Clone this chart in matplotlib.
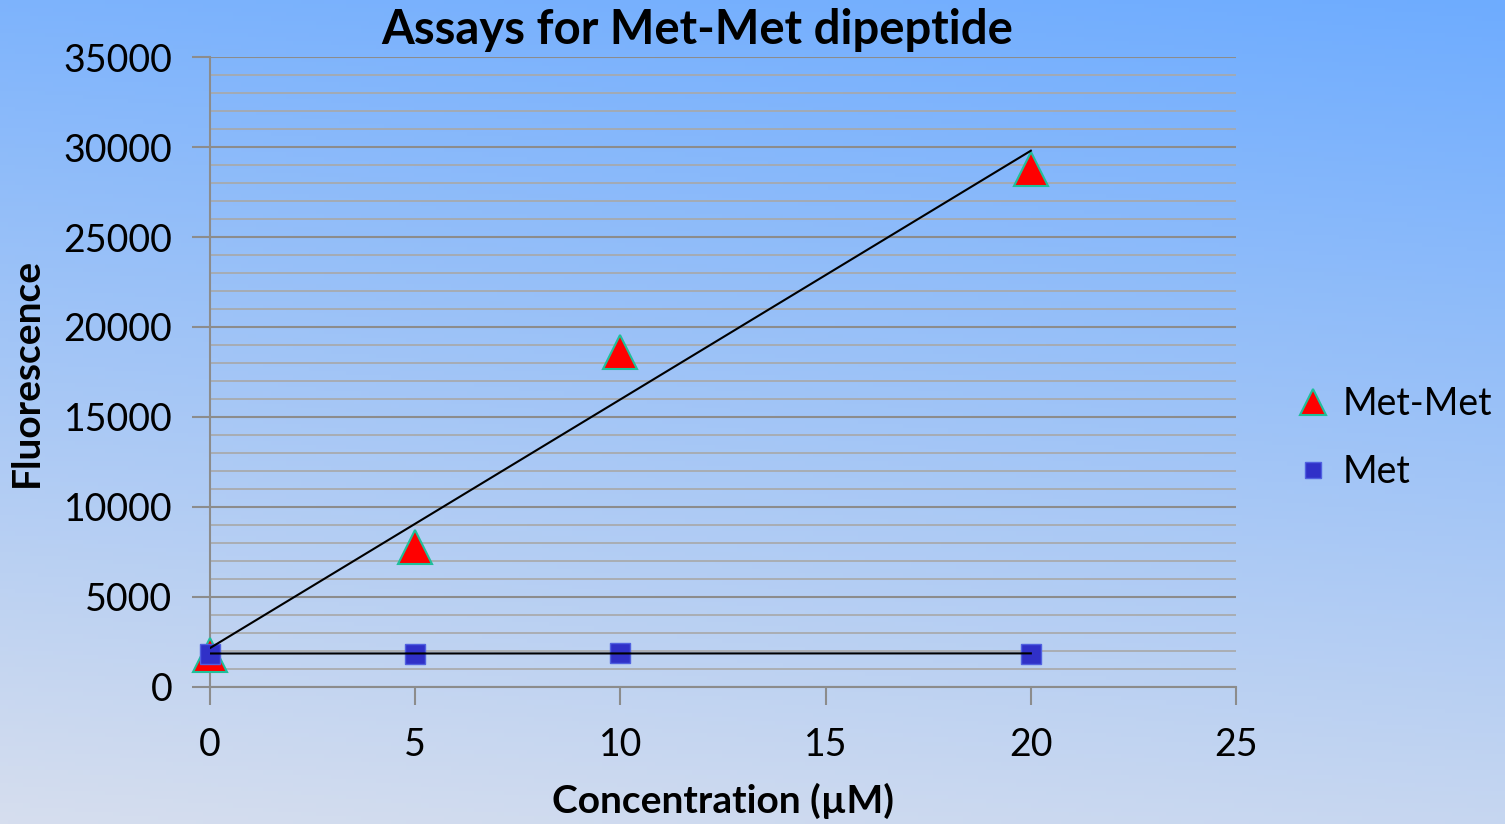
import numpy as np
import matplotlib.pyplot as plt
from matplotlib.ticker import MultipleLocator

conc = [0, 5, 10, 20]
met_met = [1800, 7800, 18600, 28800]
met = [1850, 1850, 1900, 1850]

plt.rcParams['font.family'] = ['Lato', 'DejaVu Sans']

fig = plt.figure(figsize=(15.05, 8.24), dpi=100)

# background gradient (bluer at top right, pale at bottom left)
bg = fig.add_axes([0, 0, 1, 1], zorder=-10)
yy, xx = np.mgrid[0:1:200j, 0:1:200j]
t = np.clip(0.85 * yy + 0.15 * xx, 0, 1)
top = np.array([110, 172, 255]) / 255
bot = np.array([214, 222, 238]) / 255
img = bot[None, None, :] * (1 - t[..., None]) + top[None, None, :] * t[..., None]
bg.imshow(img, origin='lower', aspect='auto', extent=[0, 1, 0, 1])
bg.axis('off')

ax = fig.add_axes([0.1395, 0.1663, 0.6818, 0.7645])
ax.patch.set_alpha(0)

ax.plot(conc, met_met, linestyle='none', marker='^', markersize=24,
        markerfacecolor='#ff0000', markeredgecolor='#1fbf9a', markeredgewidth=1.5,
        label='Met-Met', zorder=3, clip_on=False)
ax.plot(conc, met, linestyle='none', marker='s', markersize=15,
        markerfacecolor='#3030c8', markeredgecolor='#5060e0', markeredgewidth=1,
        label='Met', zorder=4, clip_on=False)

# linear trendlines
x_fit = np.array([conc[0], conc[-1]])
for series in (met_met, met):
    k, b = np.polyfit(conc, series, 1)
    ax.plot(x_fit, k * x_fit + b, color='black', linewidth=1.5, zorder=5)

ax.set_xlim(0, 25)
ax.set_ylim(0, 35000)
ax.xaxis.set_major_locator(MultipleLocator(5))
ax.yaxis.set_major_locator(MultipleLocator(5000))
ax.yaxis.set_minor_locator(MultipleLocator(1000))
ax.grid(axis='y', which='major', color='#8c8c8c', linewidth=1.5)
ax.grid(axis='y', which='minor', color='#a8a8a8', linewidth=1.2)
ax.set_axisbelow(True)

for s in ('top', 'right'):
    ax.spines[s].set_visible(False)
for s in ('left', 'bottom'):
    ax.spines[s].set_color('#8c8c8c')
    ax.spines[s].set_linewidth(1.5)
ax.tick_params(axis='both', which='major', direction='out', length=13, width=1.5,
               color='#8c8c8c', labelsize=27)
ax.tick_params(axis='y', which='minor', length=0)
ax.tick_params(axis='y', pad=14)
ax.tick_params(axis='x', pad=16)

fig.text(697 / 1505, 1 - 30 / 824, 'Assays for Met-Met dipeptide', fontsize=34,
         fontweight='bold', ha='center', va='center')
ax.set_xlabel('Concentration (µM)', fontsize=28, fontweight='bold', labelpad=14)
ax.set_ylabel('Fluorescence', fontsize=28, fontweight='bold', labelpad=14)

fig.legend(handles=ax.get_lines()[:2], loc='center left',
           bbox_to_anchor=(1296 / 1505, 1 - 438 / 824), frameon=False,
           fontsize=27, handlelength=0.9, handletextpad=0.35, labelspacing=0.85,
           borderpad=0, borderaxespad=0, markerscale=0.8)

plt.savefig('out.png', dpi=100)
plt.close()
